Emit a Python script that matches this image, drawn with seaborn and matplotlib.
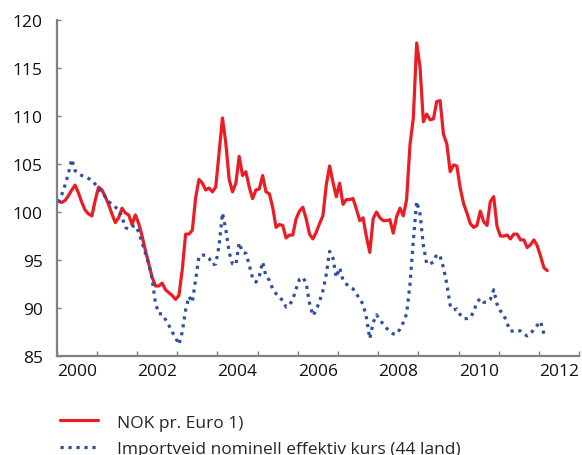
import numpy as np
import pandas as pd
import matplotlib
matplotlib.use("Agg")
import matplotlib.pyplot as plt
from matplotlib.lines import Line2D
import seaborn as sns

# Monthly observations, January 2000 - March 2012
start_month = "2000-01"
n_months = 147

nok_per_euro = [
    101.1, 101.0, 101.2, 101.7, 102.3, 102.8, 102.0, 101.0, 100.2, 99.8, 99.6, 101.2,
    102.6, 102.3, 101.6, 100.8, 99.8, 98.9, 99.4, 100.4, 99.9, 99.7, 98.7, 99.7,
    98.8, 97.5, 96.0, 94.6, 93.2, 92.3, 92.3, 92.6, 91.9, 91.6, 91.3, 90.9,
    91.3, 94.0, 97.7, 97.7, 98.1, 101.5, 103.4, 103.0, 102.3, 102.5, 102.1, 102.6,
    106.2, 109.8, 107.2, 103.4, 102.1, 103.0, 105.8, 103.8, 104.2, 102.6, 101.4, 102.3,
    102.4, 103.8, 102.1, 101.9, 100.5, 98.4, 98.7, 98.6, 97.3, 97.6, 97.6, 99.3,
    100.1, 100.5, 99.3, 97.7, 97.2, 97.9, 98.8, 99.6, 102.8, 104.8, 103.1, 101.6,
    103.0, 100.8, 101.3, 101.3, 101.4, 100.3, 99.1, 99.4, 97.4, 95.8, 99.3, 100.0,
    99.4, 99.1, 99.1, 99.2, 97.8, 99.5, 100.4, 99.6, 101.3, 107.0, 109.8, 117.6,
    115.1, 109.4, 110.2, 109.6, 109.7, 111.5, 111.6, 108.1, 107.1, 104.2, 104.9, 104.8,
    102.5, 100.9, 99.9, 98.8, 98.4, 98.6, 100.1, 99.0, 98.6, 101.1, 101.6, 98.5,
    97.5, 97.5, 97.6, 97.2, 97.7, 97.7, 97.1, 97.1, 96.3, 96.6, 97.1, 96.5,
    95.4, 94.2, 93.9,
]

import_weighted = [
    101.0, 101.8, 102.8, 104.0, 105.5, 104.3, 104.0, 103.8, 103.7, 103.5, 103.3, 102.9,
    102.5, 102.0, 101.6, 101.1, 100.8, 100.5, 100.3, 99.5, 98.4, 98.2, 98.5, 98.6,
    97.9, 96.8, 95.7, 94.6, 93.0, 90.5, 89.4, 89.4, 88.8, 88.2, 87.5, 86.9,
    86.2, 87.5, 89.8, 91.2, 90.6, 93.0, 95.4, 95.5, 95.5, 95.2, 94.5, 94.6,
    96.5, 99.9, 98.2, 95.8, 94.6, 94.5, 96.8, 95.8, 95.7, 94.5, 93.1, 92.7,
    93.3, 94.8, 93.3, 92.9, 92.0, 91.5, 91.1, 90.8, 90.1, 90.3, 90.9, 92.0,
    93.0, 93.2, 92.6, 90.5, 89.2, 89.8, 90.7, 91.8, 93.5, 95.9, 95.2, 93.2,
    94.2, 92.9, 92.5, 92.2, 92.0, 91.5, 90.9, 90.4, 89.0, 86.8, 88.5, 89.3,
    88.8, 88.3, 87.9, 87.6, 87.3, 87.3, 87.8, 88.5, 89.4, 92.5, 97.0, 101.1,
    99.8, 96.5, 94.6, 94.6, 94.8, 95.6, 95.4, 94.2, 92.5, 90.3, 89.8, 89.9,
    89.3, 88.9, 88.9, 89.0, 89.6, 90.6, 91.0, 90.6, 90.6, 90.9, 91.9, 90.4,
    89.7, 89.3, 88.4, 87.6, 87.6, 87.7, 87.6, 87.3, 87.1, 87.3, 87.8, 88.2,
    88.6, 87.3, 87.3,
]

series_names = ["NOK pr. Euro 1)", "Importveid nominell effektiv kurs (44 land)"]
year_labels = ["2000", "2002", "2004", "2006", "2008", "2010", "2012"]
y_ticks = [85, 90, 95, 100, 105, 110, 115, 120]

RED = "#ec1c24"
BLUE = "#2f4fa3"
AXIS = "#808080"

sns.set_theme(style="ticks")
plt.rcParams["font.family"] = ["Open Sans", "DejaVu Sans"]

dates = pd.date_range(start_month, periods=n_months, freq="MS")
decimal_year = dates.year + (dates.month - 0.5) / 12.0

df = pd.DataFrame({
    "t": np.concatenate([decimal_year, decimal_year]),
    "value": nok_per_euro + import_weighted,
    "series": [series_names[0]] * n_months + [series_names[1]] * n_months,
})

fig = plt.figure(figsize=(5.82, 4.56), dpi=100)
ax = fig.add_axes([0.0974, 0.217, 0.8976, 0.737])

sns.lineplot(
    data=df[df["series"] == series_names[0]], x="t", y="value",
    color=RED, linewidth=2.3, ax=ax, legend=False,
)
sns.lineplot(
    data=df[df["series"] == series_names[1]], x="t", y="value",
    color=BLUE, linewidth=2.3, linestyle=(0, (1.0, 1.5)), ax=ax, legend=False,
)

ax.set_xlim(2000, 2013)
ax.set_ylim(85, 120)
ax.set_xlabel("")
ax.set_ylabel("")

# year ticks at year boundaries, labels centred on the year
ax.set_xticks(np.arange(2000, 2014))
ax.set_xticklabels([])
label_years = [int(y) for y in year_labels]
ax.set_xticks([y + 0.5 for y in label_years], minor=True)
ax.set_xticklabels(year_labels, minor=True)
ax.tick_params(axis="x", which="major", direction="in", length=3.6, width=1.0, color=AXIS)
ax.tick_params(axis="x", which="minor", length=0, pad=5, labelsize=12.5, labelcolor="#111111")

ax.set_yticks(y_ticks)
ax.set_yticklabels([str(v) for v in y_ticks])
ax.tick_params(axis="y", direction="in", length=3.2, width=1.0, color=AXIS, pad=10,
               labelsize=12.5, labelcolor="#111111")

for side in ("top", "right"):
    ax.spines[side].set_visible(False)
for side in ("left", "bottom"):
    ax.spines[side].set_color(AXIS)
    ax.spines[side].set_linewidth(1.6)

handles = [
    Line2D([], [], color=RED, linewidth=2.3),
    Line2D([], [], color=BLUE, linewidth=2.3, linestyle=(0, (1.0, 1.5))),
]
fig.legend(handles, series_names, loc="upper left", bbox_to_anchor=(0.103, 0.089),
           frameon=False, fontsize=12.5, handlelength=2.2, handletextpad=1.1,
           labelspacing=0.6, borderpad=0, borderaxespad=0)

fig.savefig("out.png", dpi=100)
